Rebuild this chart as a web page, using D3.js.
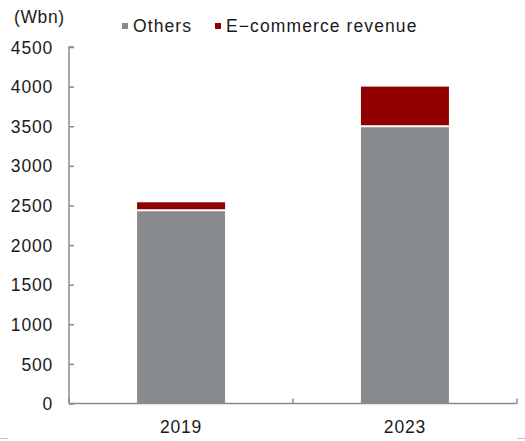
<!DOCTYPE html>
<html>
<head>
<meta charset="utf-8">
<script src="https://cdn.jsdelivr.net/npm/d3@7/dist/d3.min.js"></script>
<style>
  html, body { margin: 0; padding: 0; background: #fff; }
  svg { display: block; }
  text { font-family: "Liberation Sans", Arial, sans-serif; fill: #1a1a1a; }
</style>
</head>
<body>
<svg id="chart" width="525" height="441"></svg>
<script>
// Revenue breakdown, W bn
const years = ["2019", "2023"];
const others = [2440, 3500];
const ecommerce = [100, 500];
const yTicks = [0, 500, 1000, 1500, 2000, 2500, 3000, 3500, 4000, 4500];
const seriesNames = ["Others", "E-commerce revenue"];
const seriesColors = ["#888b8d", "#900000"];

const svg = d3.select("#chart");
const plotLeft = 69, plotRight = 517, plotTop = 47, plotBottom = 403.5;

const x = d3.scaleBand().domain(years).range([plotLeft, plotRight])
  .paddingInner(0.607).paddingOuter(0.304);
const y = d3.scaleLinear().domain([0, 4500]).range([plotBottom, plotTop]);

const rows = years.map((yr, i) => ({ year: yr, others: others[i], ecom: ecommerce[i] }));
const stack = d3.stack().keys(["others", "ecom"])(rows);

// stacked bars
svg.append("g").selectAll("g").data(stack).join("g")
  .attr("fill", (d, i) => seriesColors[i])
  .selectAll("rect").data(d => d).join("rect")
  .attr("x", d => x(d.data.year))
  .attr("width", x.bandwidth())
  .attr("y", d => y(d[1]))
  .attr("height", d => y(d[0]) - y(d[1]));

// white divider between the two segments
svg.append("g").selectAll("line").data(rows).join("line")
  .attr("x1", d => x(d.year)).attr("x2", d => x(d.year) + x.bandwidth())
  .attr("y1", d => y(d.others)).attr("y2", d => y(d.others))
  .attr("stroke", "#fff").attr("stroke-width", 2);

const axisColor = "#8a8a8a";

// y axis, ticks pointing inward
const yAxis = svg.append("g").attr("transform", `translate(${plotLeft},0)`)
  .call(d3.axisRight(y).tickValues(yTicks).tickSize(5).tickFormat(d3.format("d")));
yAxis.select(".domain").attr("stroke", axisColor).attr("stroke-width", 1.5)
  .attr("d", `M${5},${y(4500)}H0V${y(0)}`);
yAxis.selectAll(".tick line").attr("stroke", axisColor).attr("stroke-width", 1.5);
yAxis.selectAll(".tick text")
  .attr("x", -16).attr("text-anchor", "end").attr("dy", "0.35em")
  .style("font-size", "17.5px").style("letter-spacing", "0.8px").attr("fill", "#1a1a1a");

// x axis with category boundary ticks pointing up
const xg = svg.append("g").attr("transform", `translate(0,${plotBottom})`);
xg.append("line").attr("x1", plotLeft).attr("x2", plotRight)
  .attr("stroke", axisColor).attr("stroke-width", 1.5);
const bounds = [plotLeft, (x("2019") + x.bandwidth() + x("2023")) / 2, plotRight];
xg.selectAll(".bt").data(bounds).join("line").attr("class", "bt")
  .attr("x1", d => d).attr("x2", d => d).attr("y1", 0).attr("y2", -5)
  .attr("stroke", axisColor).attr("stroke-width", 1.5);
xg.selectAll(".xl").data(years).join("text").attr("class", "xl")
  .attr("x", d => x(d) + x.bandwidth() / 2).attr("y", 29)
  .attr("text-anchor", "middle")
  .style("font-size", "17.5px").style("letter-spacing", "0.8px")
  .text(d => d);

// unit label
svg.append("text").attr("x", 14).attr("y", 23)
  .style("font-size", "17.5px").style("letter-spacing", "0.6px").text("(Wbn)");

// legend
const legendX = [122, 215];
const lg = svg.append("g").selectAll("g").data(seriesNames).join("g")
  .attr("transform", (d, i) => `translate(${legendX[i]},0)`);
lg.append("rect").attr("x", 0).attr("y", 23).attr("width", 6).attr("height", 6)
  .attr("fill", (d, i) => seriesColors[i]);
lg.append("text").attr("x", 11).attr("y", 32)
  .style("font-size", "17.5px").style("letter-spacing", "1.1px")
  .text(d => d.replace("-", "\u2212"));

// frame fragments along the bottom edge
svg.append("g").selectAll("line").data([[0, 8], [517, 525]]).join("line")
  .attr("x1", d => d[0]).attr("x2", d => d[1]).attr("y1", 438.5).attr("y2", 438.5)
  .attr("stroke", "#c8c8c8").attr("stroke-width", 1);
</script>
</body>
</html>
